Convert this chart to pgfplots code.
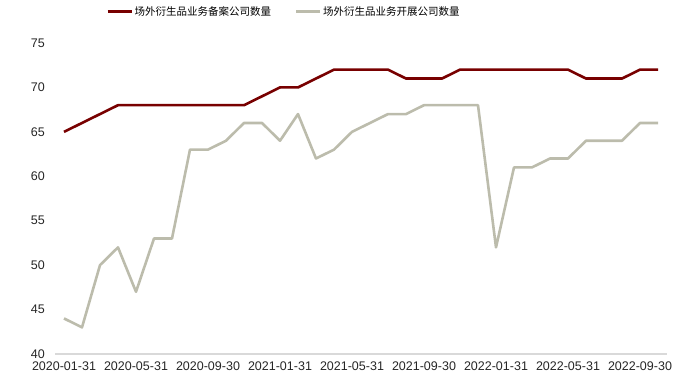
\documentclass[border=0pt]{standalone}
\usepackage{fontspec}
\setmainfont{Liberation Sans}
\newfontfamily\cjk{Noto Sans CJK SC}
\usepackage{pgfplots}
\pgfplotsset{compat=1.18}
\definecolor{dred}{RGB}{120,0,0}
\definecolor{lgray}{RGB}{188,188,172}
\definecolor{axgray}{RGB}{217,217,217}
\begin{document}
\begin{tikzpicture}[x=1pt,y=1pt]
\path[draw=none] (0,0) rectangle (690,390);
\begin{axis}[
  at={(55pt,36pt)}, anchor=south west,
  scale only axis, width=612pt, height=311pt,
  xmin=-0.5, xmax=33.5, ymin=40, ymax=75,
  axis x line*=bottom, axis y line*=left,
  x axis line style={draw=axgray, line width=1.5pt, -},
  y axis line style={draw=none},
  xtick={0,4,...,32},
  xticklabels={2020-01-31,2020-05-31,2020-09-30,2021-01-31,2021-05-31,2021-09-30,2022-01-31,2022-05-31,2022-09-30},
  ytick={40,45,...,75},
  major tick length=0pt,
  tick label style={font=\fontsize{12.5}{14}\selectfont, text=black!85},
  /pgf/number format/assume math mode=true,
  yticklabel style={anchor=east, inner sep=0pt, xshift=-10pt},
  xticklabel style={inner sep=0pt, yshift=-8pt},
  clip=false,
  legend columns=2,
  legend style={draw=none, fill=none, at={(0.0833,1.0997)}, anchor=west,
    font=\cjk\fontsize{10.5}{12}\selectfont, inner sep=0pt,
    /tikz/every even column/.append style={column sep=22pt},
    nodes={inner sep=1.5pt}},
  legend image code/.code={\draw[#1, line width=3pt] (0pt,0pt) -- (24pt,0pt);},
]
\addplot[dred, line width=2.6pt, line join=round] coordinates {
(0,65)(1,66)(2,67)(3,68)(4,68)(5,68)(6,68)(7,68)(8,68)(9,68)(10,68)(11,69)
(12,70)(13,70)(14,71)(15,72)(16,72)(17,72)(18,72)(19,71)(20,71)(21,71)(22,72)
(23,72)(24,72)(25,72)(26,72)(27,72)(28,72)(29,71)(30,71)(31,71)(32,72)(33,72)};
\addlegendentry{场外衍生品业务备案公司数量}
\addplot[lgray, line width=2.6pt, line join=round] coordinates {
(0,44)(1,43)(2,50)(3,52)(4,47)(5,53)(6,53)(7,63)(8,63)(9,64)(10,66)(11,66)
(12,64)(13,67)(14,62)(15,63)(16,65)(17,66)(18,67)(19,67)(20,68)(21,68)(22,68)
(23,68)(24,52)(25,61)(26,61)(27,62)(28,62)(29,64)(30,64)(31,64)(32,66)(33,66)};
\addlegendentry{场外衍生品业务开展公司数量}
\end{axis}
\end{tikzpicture}
\end{document}
